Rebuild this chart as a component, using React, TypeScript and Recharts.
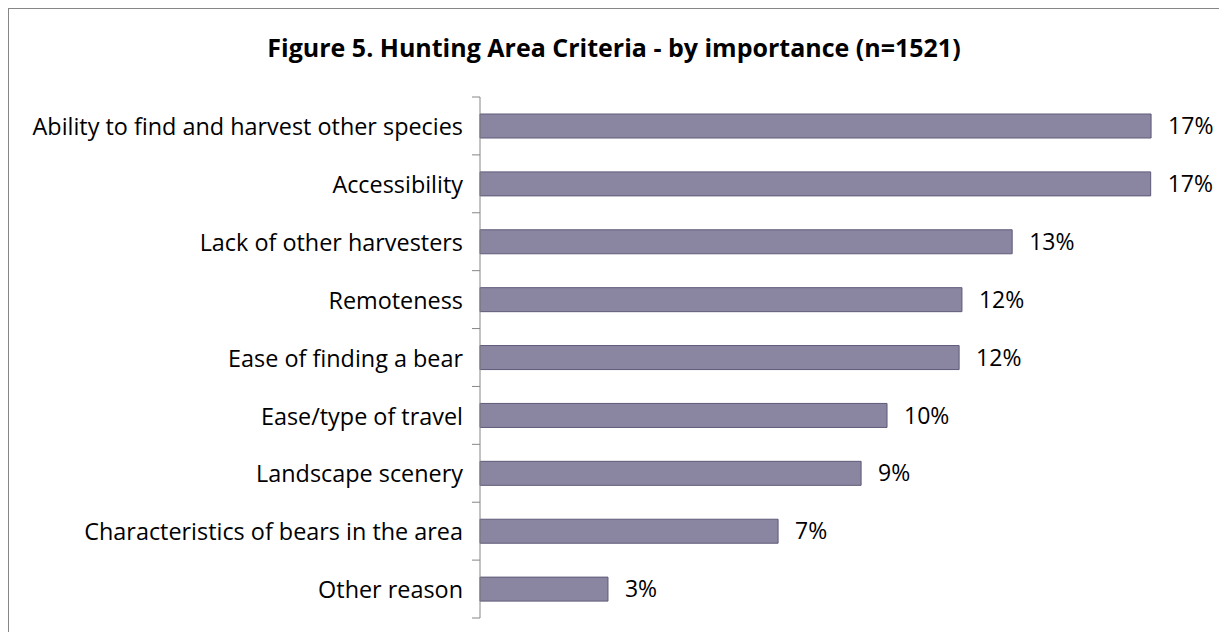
import React from 'react'
import { Bar, BarChart, LabelList, XAxis, YAxis } from 'recharts'

const criteria = [
    'Ability to find and harvest other species',
    'Accessibility',
    'Lack of other harvesters',
    'Remoteness',
    'Ease of finding a bear',
    'Ease/type of travel',
    'Landscape scenery',
    'Characteristics of bears in the area',
    'Other reason',
]

const shares = [0.1657, 0.1656, 0.1314, 0.119, 0.1183, 0.1005, 0.0941, 0.0736, 0.0316]

const xDomain = [0, 0.18]

const chartData = criteria.map((name, i) => ({ name, share: shares[i] }))

const CHART_W = 1210
const CHART_H = 631
const MARGIN = { top: 88, right: 10, bottom: 22, left: 0 }
const AXIS_W = 471
const BAND = (CHART_H - MARGIN.top - MARGIN.bottom) / criteria.length
const FONT = '"Open Sans", sans-serif'

const CategoryTick = (props: any) => {
    const { x, y, payload, index } = props
    const last = index === criteria.length - 1
    return (
        <g>
            <line x1={AXIS_W - 8} x2={AXIS_W} y1={y - BAND / 2} y2={y - BAND / 2} stroke="#868686" />
            {last && (
                <line x1={AXIS_W - 8} x2={AXIS_W} y1={y + BAND / 2} y2={y + BAND / 2} stroke="#868686" />
            )}
            <text x={x} y={y + 1} dy="0.35em" textAnchor="end" fill="#000" fontSize={23.4} fontFamily={FONT}>
                {payload.value}
            </text>
        </g>
    )
}

const App = () => {
    return (
        <div
            style={{
                position: 'relative',
                width: 1219,
                height: 632,
                boxSizing: 'border-box',
                borderLeft: '1px solid #868686',
                borderTop: '1px solid #868686',
                marginBottom: -8,
                overflow: 'hidden',
                background: '#fff',
            }}
        >
            <div
                style={{
                    position: 'absolute',
                    top: 21,
                    left: 0,
                    width: CHART_W,
                    textAlign: 'center',
                    fontFamily: FONT,
                    fontWeight: 700,
                    fontSize: 25,
                    color: '#000',
                }}
            >
                Figure 5. Hunting Area Criteria - by importance (n=1521)
            </div>
            <BarChart
                width={CHART_W}
                height={CHART_H}
                data={chartData}
                layout="vertical"
                margin={MARGIN}
                barCategoryGap={0}
            >
                <XAxis type="number" domain={xDomain} hide />
                <YAxis
                    type="category"
                    dataKey="name"
                    width={AXIS_W}
                    axisLine={{ stroke: '#868686' }}
                    tickLine={false}
                    tickSize={0}
                    tickMargin={17}
                    interval={0}
                    tick={<CategoryTick />}
                />
                <Bar
                    dataKey="share"
                    barSize={24}
                    fill="#8A86A2"
                    stroke="#5E5A78"
                    strokeWidth={1}
                    isAnimationActive={false}
                >
                    <LabelList
                        dataKey="share"
                        position="right"
                        offset={17}
                        fill="#000"
                        fontSize={23}
                        fontFamily={FONT}
                        formatter={(v: any) => `${Math.round(v * 100)}%`}
                    />
                </Bar>
            </BarChart>
        </div>
    )
}

export default App
